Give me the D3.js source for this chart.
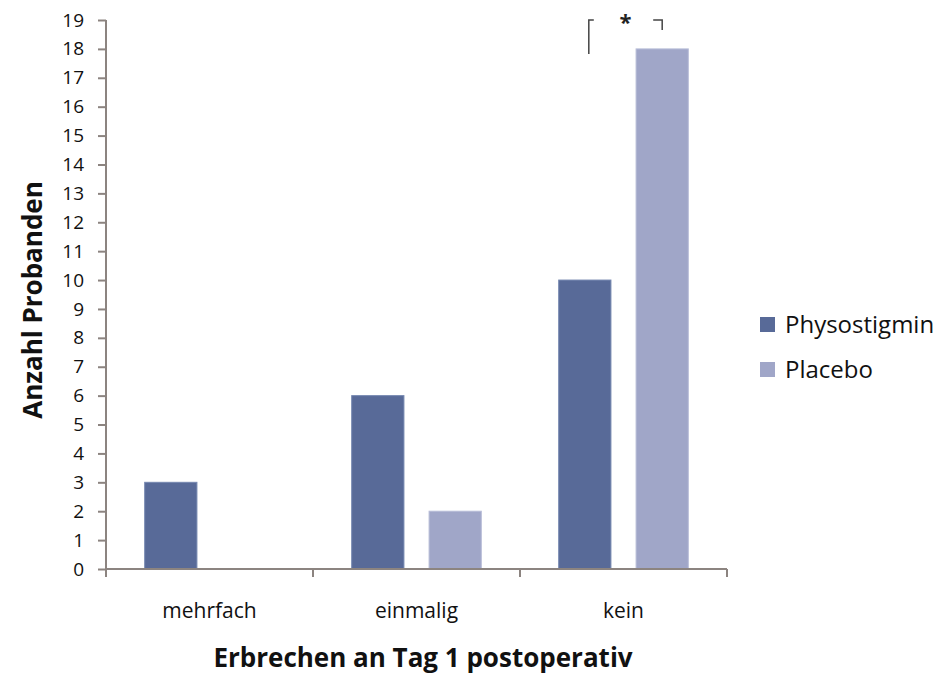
<!DOCTYPE html>
<html>
<head>
<meta charset="utf-8">
<script src="https://cdn.jsdelivr.net/npm/d3@7"></script>
<style>
  body { margin: 0; background: #fff; }
  text { font-family: "Open Sans", sans-serif; }
</style>
</head>
<body>
<div id="chart"></div>
<script>
const categories = ["mehrfach", "einmalig", "kein"];
const seriesNames = ["Physostigmin", "Placebo"];
const physostigmin = [3, 6, 10];
const placebo = [0, 2, 18];
const yTicks = d3.range(0, 20);
const colors = ["#586a98", "#a0a6c8"];

const width = 942, height = 674;
const margin = { top: 20, right: 215, bottom: 105, left: 106 };
const w = width - margin.left - margin.right;
const h = height - margin.top - margin.bottom;

const svg = d3.select("#chart").append("svg")
    .attr("width", width)
    .attr("height", height);

const g = svg.append("g")
    .attr("transform", `translate(${margin.left},${margin.top})`);

// Scales
const x0 = d3.scaleBand().domain(categories).range([0, w]).paddingInner(0).paddingOuter(0);
const x1 = d3.scaleBand().domain(seriesNames).range([0, x0.bandwidth()])
    .paddingInner(0.325).paddingOuter(0.5);
const y = d3.scaleLinear().domain([0, 19]).range([h, 0]);

// Bars
const rows = categories.map((c, i) => ({ cat: c, values: [physostigmin[i], placebo[i]] }));
g.selectAll(".grp")
    .data(rows)
    .enter().append("g")
    .attr("transform", d => `translate(${x0(d.cat)},0)`)
    .selectAll("rect")
    .data(d => d.values.map((v, j) => ({ name: seriesNames[j], v, j })))
    .enter().append("rect")
    .attr("x", d => x1(d.name))
    .attr("width", x1.bandwidth())
    .attr("y", d => y(d.v))
    .attr("height", d => h - y(d.v))
    .attr("fill", d => colors[d.j])
    .attr("stroke", d => d.v > 0 ? (d.j === 0 ? "#7587b0" : "#b8bdd8") : "none")
    .attr("stroke-width", 1);

// Y axis
const yAxis = g.append("g")
    .call(d3.axisLeft(y).tickValues(yTicks).tickSize(8).tickPadding(14).tickFormat(d3.format("d")));
yAxis.selectAll("line, path").attr("stroke", "#8c8480").attr("stroke-width", 2);
yAxis.select(".domain").attr("d", `M0,${h}V0`);
yAxis.selectAll("text").attr("font-size", 19).attr("fill", "#111")
    .style("font-family", "'Open Sans', sans-serif");

// X axis
const xAxis = g.append("g")
    .attr("transform", `translate(0,${h})`);
xAxis.append("line").attr("x1", 0).attr("x2", w).attr("stroke", "#8c8480").attr("stroke-width", 2);
xAxis.selectAll(".tk")
    .data(categories.map(c => x0(c)).concat([w]))
    .enter().append("line")
    .attr("x1", d => d).attr("x2", d => d)
    .attr("y1", 0).attr("y2", 8)
    .attr("stroke", "#8c8480").attr("stroke-width", 2);
xAxis.selectAll(".lbl")
    .data(categories)
    .enter().append("text")
    .attr("x", d => x0(d) + x0.bandwidth() / 2)
    .attr("y", 49)
    .attr("text-anchor", "middle")
    .attr("font-size", 21)
    .attr("fill", "#111")
    .text(d => d);

// Axis titles
svg.append("text")
    .attr("x", 423).attr("y", 667)
    .attr("text-anchor", "middle")
    .attr("font-size", 26).attr("font-weight", "bold").attr("fill", "#111")
    .text("Erbrechen an Tag 1 postoperativ");

svg.append("text")
    .attr("transform", "rotate(-90)")
    .attr("x", -300).attr("y", 42)
    .attr("text-anchor", "middle")
    .attr("font-size", 26).attr("font-weight", "bold").attr("fill", "#111")
    .text("Anzahl Probanden");

// Significance bracket
const kein = x0("kein");
const bx1 = kein + x1("Physostigmin") + x1.bandwidth() / 2 + 4;
const bx2 = kein + x1("Placebo") + x1.bandwidth() / 2;
const sig = g.append("g").attr("stroke", "#444").attr("stroke-width", 1.5).attr("fill", "none");
sig.append("path").attr("d", `M${bx1},${y(17.82)}V${y(19)}H${bx1 + 5}`);
sig.append("path").attr("d", `M${bx2 - 9},${y(19)}H${bx2}V${y(18.65)}`);
g.append("text")
    .attr("x", (bx1 + bx2) / 2).attr("y", y(19) + 10)
    .attr("text-anchor", "middle")
    .attr("font-size", 22).attr("font-weight", "bold").attr("fill", "#222")
    .text("*");

// Legend
const legend = svg.append("g").attr("transform", "translate(760,317)");
seriesNames.forEach((s, i) => {
  const row = legend.append("g").attr("transform", `translate(0,${i * 45})`);
  row.append("rect").attr("width", 15).attr("height", 15).attr("fill", colors[i]);
  row.append("text").attr("x", 25).attr("y", 16)
      .attr("font-size", 24).attr("fill", "#111").text(s);
});
</script>
</body>
</html>
